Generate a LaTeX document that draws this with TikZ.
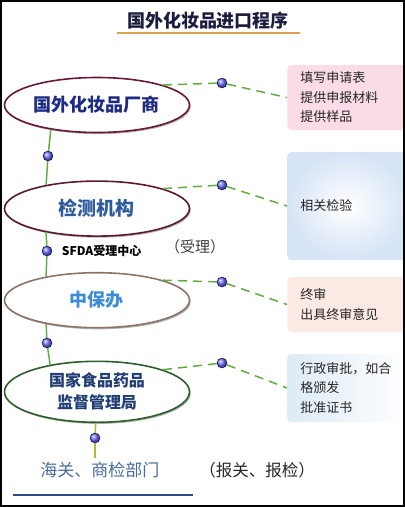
\documentclass[tikz,border=0pt]{standalone}
\usepackage{fontspec}
\setmainfont{Noto Sans CJK SC}
\usetikzlibrary{shapes,positioning,shadows}

\definecolor{redline}{HTML}{6A1838}
\definecolor{navytext}{HTML}{1E2B85}
\definecolor{plumline}{HTML}{5C1A32}
\definecolor{steeltext}{HTML}{2E5C9C}
\definecolor{tanline}{HTML}{8C7466}
\definecolor{skytext}{HTML}{3C8CD6}
\definecolor{pineline}{HTML}{2E5E2E}
\definecolor{inktext}{HTML}{213F74}
\definecolor{linkgreen}{HTML}{62AC40}
\definecolor{stemyellow}{HTML}{B5B531}
\definecolor{pinkfill}{HTML}{F9DCE7}
\definecolor{bluefill}{HTML}{D6E4F6}
\definecolor{peachfill}{HTML}{FBEAE3}
\definecolor{icefill}{HTML}{DDEBF5}
\definecolor{titleink}{HTML}{1C1C40}
\definecolor{orangeline}{HTML}{E0A050}
\definecolor{slatetext}{HTML}{4A6B9E}
\definecolor{footblue}{HTML}{2C4C8C}

\begin{document}
\begin{tikzpicture}[x=1pt,y=-1pt,thick,
  main node/.style={ellipse,draw,fill=white,line width=1.6pt,minimum width=185pt,minimum height=55pt,inner sep=0pt,align=center,font=\fontsize{18}{22}\selectfont\bfseries,drop shadow={shadow xshift=1.2pt,shadow yshift=-1.6pt,fill=black!60}},
  side box/.style={rectangle,rounded corners=4pt,anchor=west,text width=95pt,inner xsep=13pt,align=left,font=\fontsize{13}{19.5}\selectfont,text=black!85},
  dot ball/.style={circle,inner sep=0pt,minimum size=10pt,shading=ball,ball color=blue!55!white,draw=blue!30!black,line width=.4pt},
  dash link/.style={color=linkgreen,line width=1.5pt,dash pattern=on 9pt off 6pt},
  stem line/.style={color=linkgreen,line width=1.5pt}]
  \useasboundingbox (0,0) rectangle (405,507);

  % title
  \node[font=\fontsize{18}{20}\selectfont\bfseries,text=titleink] (title) at (208,21) {国外化妆品进口程序};
  \draw[orangeline,line width=1.8pt] (117,33) -- (300,33);

  % main chain
  \node[main node,draw=redline,text=navytext] (1) at (97,105) {国外化妆品厂商};
  \node[main node,draw=plumline,text=steeltext,font=\fontsize{19}{22}\selectfont\bfseries] (2) [below=47pt of 1] {检测机构};
  \node[main node,draw=tanline,text=skytext] (3) [below=35pt of 2] {中保办};
  \node[main node,draw=pineline,text=inktext,minimum height=61pt,font=\fontsize{16}{22}\selectfont\bfseries] (4) [below=32pt of 3] {国家食品药品\\监督管理局};

  % notes on the right
  \node[side box,fill=pinkfill,minimum height=65pt] (b1) at (287,97.5) {填写申请表\\提供申报材料\\提供样品};
  \node[side box,inner color=white,outer color=bluefill,minimum height=108pt] (b2) at (287,206) {相关检验};
  \node[side box,fill=peachfill,minimum height=55pt] (b3) at (287,304.5) {终审\\出具终审意见};
  \node[side box,left color=icefill,right color=white,minimum height=68pt] (b4) at (287,388) {行政审批，如合\\格颁发\\批准证书};

  % dots
  \node[dot ball] (d1) at (222,83) {};
  \node[dot ball] (d2) at (222,185) {};
  \node[dot ball] (d3) at (222,282) {};
  \node[dot ball] (d4) at (222,363) {};
  \node[dot ball] (v1) at (48,156) {};
  \node[dot ball] (v2) at (47,251) {};
  \node[dot ball] (v3) at (47,343) {};
  \node[dot ball] (v4) at (95,438) {};

  \node[font=\fontsize{12}{14}\selectfont\bfseries] (sfda) [right=6pt of v2] {SFDA受理中心};
  \node[font=\fontsize{15}{18}\selectfont,text=black!75] (accept) at (195,247) {（受理）};

  % bottom line
  \node[font=\fontsize{17}{20}\selectfont,text=slatetext] (5) at (100,470) {海关、商检部门};
  \node[font=\fontsize{16.5}{20}\selectfont,text=black!85] (6) at (257,470) {（报关、报检）};
  \draw[footblue,line width=2pt] (13,495) -- (193,495);

  \path[stem line]
  (v1) edge (1.208) edge (2.155)
  (v2) edge (2.205) edge (3.155)
  (v3) edge (3.205) edge (4.150);
  \path[stem line,color=stemyellow]
  (v4) edge (4) edge (v4 |- 5.north);

  \path[dash link]
  (d1) edge (1.north east) edge (b1.west)
  (d2) edge (2.north east) edge (b2.west)
  (d3) edge (3.north east) edge (b3.west)
  (d4) edge (4.north east) edge (b4.west);

  \draw[line width=2pt] (1,1) rectangle (404,506);
\end{tikzpicture}
\end{document}
